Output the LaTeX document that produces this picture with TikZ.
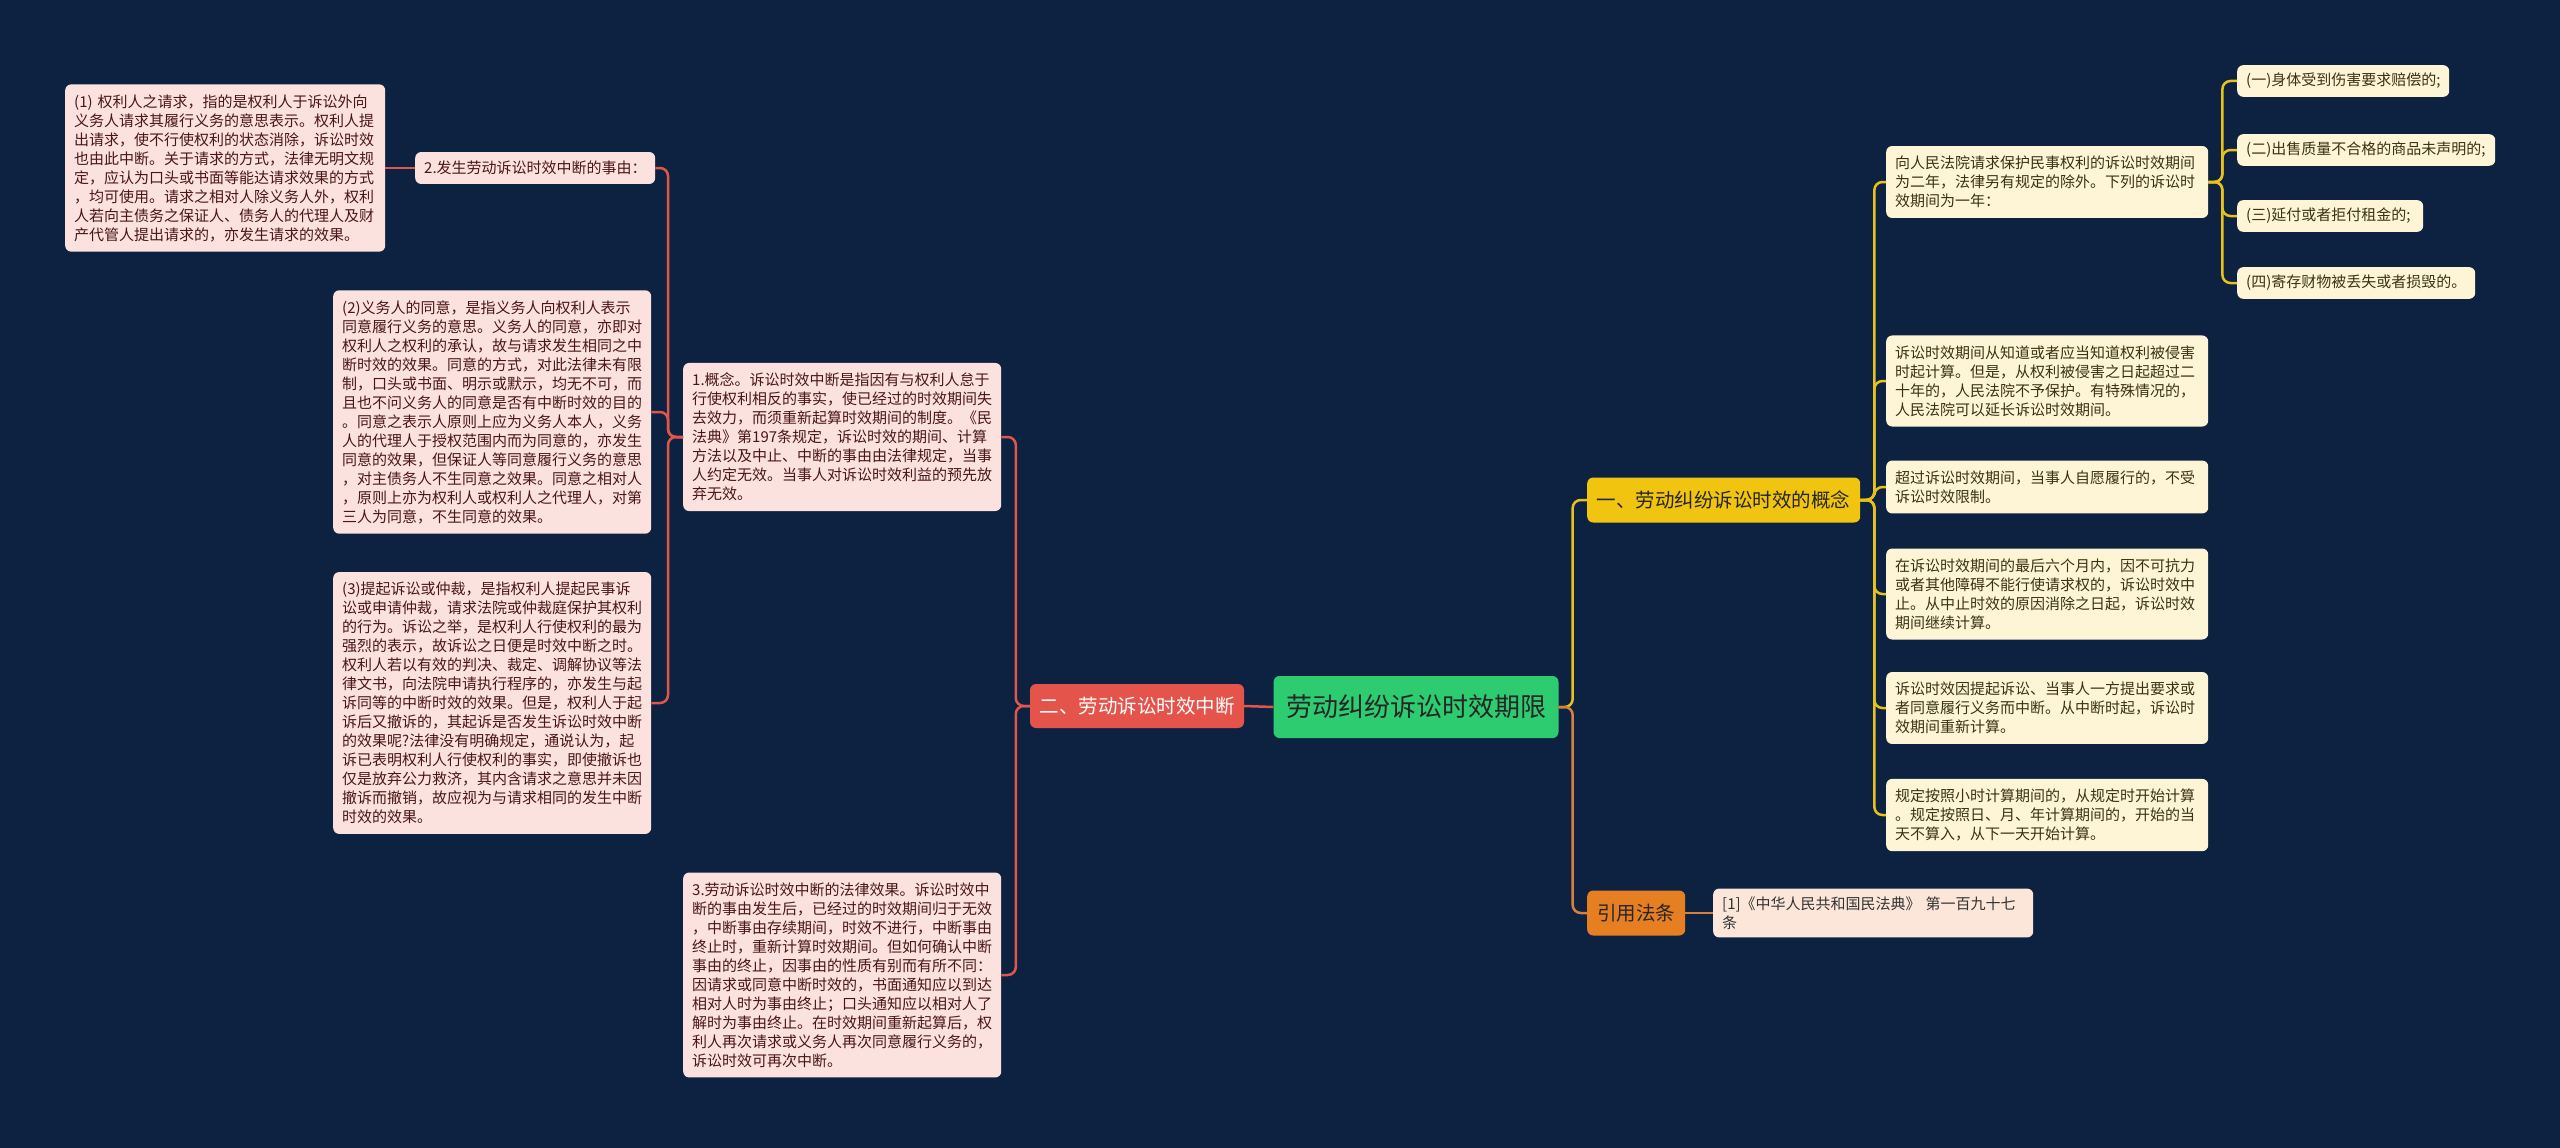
\documentclass[tikz,border=0pt]{standalone}
\usepackage{fontspec}
\setmainfont{Noto Sans CJK SC}
\definecolor{bgc}{HTML}{0C2240}
\definecolor{pinkc}{HTML}{FBE2DF}
\definecolor{pinktext}{HTML}{4A1616}
\definecolor{creamc}{HTML}{FDF5D6}
\definecolor{creamtext}{HTML}{3A3212}
\definecolor{citc}{HTML}{FCE6DA}
\definecolor{rootc}{HTML}{2ECC71}
\definecolor{redc}{HTML}{E4544A}
\definecolor{yelc}{HTML}{F1C40F}
\definecolor{orac}{HTML}{E67E22}
\definecolor{redl}{HTML}{E0574A}
\definecolor{yell}{HTML}{E8C21A}
\definecolor{oral}{HTML}{D9813A}
\begin{document}
\begin{tikzpicture}[x=1pt,y=-1pt,
  box/.style={rounded corners=6pt, align=left, inner xsep=9pt, inner ysep=10pt,
    font=\fontsize{15}{19}\selectfont, anchor=west},
  pinkbox/.style={box, fill=pinkc, text=pinktext},
  creambox/.style={box, fill=creamc, text=creamtext},
  itembox/.style={creambox, inner ysep=8pt},
  bignode/.style={rounded corners=6pt, align=center, inner sep=0pt,
    font=\fontsize{19.5}{22}\selectfont},
  conn/.style={line width=2.5pt, rounded corners=8pt},
  redline/.style={conn, draw=redl},
  yline/.style={conn, draw=yell},
  oline/.style={conn, draw=oral}]
\fill[bgc] (0,0) rectangle (2560,1148);
\useasboundingbox (0,0) rectangle (2560,1148);

% root
\node[bignode, fill=rootc, text=black!85, minimum width=285pt, minimum height=62pt,
  font=\fontsize{26}{30}\selectfont] (root) at (1416,707) {劳动纠纷诉讼时效期限};

% left branch
\node[bignode, fill=redc, text=white, minimum width=214pt, minimum height=44pt] (red) at (1137,706) {二、劳动诉讼时效中断};

\node[pinkbox, text width=300pt] (L2) at (683,437) {1.概念。诉讼时效中断是指因有与权利人怠于\\行使权利相反的事实，使已经过的时效期间失\\去效力，而须重新起算时效期间的制度。《民\\法典》第197条规定，诉讼时效的期间、计算\\方法以及中止、中断的事由由法律规定，当事\\人约定无效。当事人对诉讼时效利益的预先放\\弃无效。};

\node[pinkbox, text width=300pt] (L3) at (683,975) {3.劳动诉讼时效中断的法律效果。诉讼时效中\\断的事由发生后，已经过的时效期间归于无效\\，中断事由存续期间，时效不进行，中断事由\\终止时，重新计算时效期间。但如何确认中断\\事由的终止，因事由的性质有别而有所不同：\\因请求或同意中断时效的，书面通知应以到达\\相对人时为事由终止；口头通知应以相对人了\\解时为事由终止。在时效期间重新起算后，权\\利人再次请求或义务人再次同意履行义务的，\\诉讼时效可再次中断。};

\node[pinkbox, text width=222pt, inner ysep=9pt] (L1) at (415,168) {2.发生劳动诉讼时效中断的事由：};

\node[pinkbox, text width=302pt] (b1) at (65,168) {(1) 权利人之请求，指的是权利人于诉讼外向\\义务人请求其履行义务的意思表示。权利人提\\出请求，使不行使权利的状态消除，诉讼时效\\也由此中断。关于请求的方式，法律无明文规\\定，应认为口头或书面等能达请求效果的方式\\，均可使用。请求之相对人除义务人外，权利\\人若向主债务之保证人、债务人的代理人及财\\产代管人提出请求的，亦发生请求的效果。};

\node[pinkbox, text width=300pt] (b2) at (333,412) {(2)义务人的同意，是指义务人向权利人表示\\同意履行义务的意思。义务人的同意，亦即对\\权利人之权利的承认，故与请求发生相同之中\\断时效的效果。同意的方式，对此法律未有限\\制，口头或书面、明示或默示，均无不可，而\\且也不问义务人的同意是否有中断时效的目的\\。同意之表示人原则上应为义务人本人，义务\\人的代理人于授权范围内而为同意的，亦发生\\同意的效果，但保证人等同意履行义务的意思\\，对主债务人不生同意之效果。同意之相对人\\，原则上亦为权利人或权利人之代理人，对第\\三人为同意，不生同意的效果。};

\node[pinkbox, text width=300pt] (b3) at (333,703) {(3)提起诉讼或仲裁，是指权利人提起民事诉\\讼或申请仲裁，请求法院或仲裁庭保护其权利\\的行为。诉讼之举，是权利人行使权利的最为\\强烈的表示，故诉讼之日便是时效中断之时。\\权利人若以有效的判决、裁定、调解协议等法\\律文书，向法院申请执行程序的，亦发生与起\\诉同等的中断时效的效果。但是，权利人于起\\诉后又撤诉的，其起诉是否发生诉讼时效中断\\的效果呢?法律没有明确规定，通说认为，起\\诉已表明权利人行使权利的事实，即使撤诉也\\仅是放弃公力救济，其内含请求之意思并未因\\撤诉而撤销，故应视为与请求相同的发生中断\\时效的效果。};

% right branch
\node[bignode, fill=yelc, text=black!85, minimum width=273pt, minimum height=45pt, anchor=west] (yel) at (1587,500) {一、劳动纠纷诉讼时效的概念};
\node[bignode, fill=orac, text=black!85, minimum width=98pt, minimum height=45pt, anchor=west] (ora) at (1587,913) {引用法条};
\node[box, fill=citc, text=black!80, text width=302pt, inner ysep=8pt] (cit) at (1713,913) {[1]《中华人民共和国民法典》 第一百九十七\\条};

\node[creambox, text width=304pt] (R1) at (1886,182) {向人民法院请求保护民事权利的诉讼时效期间\\为二年，法律另有规定的除外。下列的诉讼时\\效期间为一年：};
\node[creambox, text width=304pt] (R2) at (1886,381) {诉讼时效期间从知道或者应当知道权利被侵害\\时起计算。但是，从权利被侵害之日起超过二\\十年的，人民法院不予保护。有特殊情况的，\\人民法院可以延长诉讼时效期间。};
\node[creambox, text width=304pt] (R3) at (1886,487) {超过诉讼时效期间，当事人自愿履行的，不受\\诉讼时效限制。};
\node[creambox, text width=304pt] (R4) at (1886,594) {在诉讼时效期间的最后六个月内，因不可抗力\\或者其他障碍不能行使请求权的，诉讼时效中\\止。从中止时效的原因消除之日起，诉讼时效\\期间继续计算。};
\node[creambox, text width=304pt] (R5) at (1886,708) {诉讼时效因提起诉讼、当事人一方提出要求或\\者同意履行义务而中断。从中断时起，诉讼时\\效期间重新计算。};
\node[creambox, text width=304pt] (R6) at (1886,815) {规定按照小时计算期间的，从规定时开始计算\\。规定按照日、月、年计算期间的，开始的当\\天不算入，从下一天开始计算。};

\node[itembox, text width=194pt] (i1) at (2237,81) {(一)身体受到伤害要求赔偿的;};
\node[itembox, text width=240pt] (i2) at (2237,150) {(二)出售质量不合格的商品未声明的;};
\node[itembox, text width=168pt] (i3) at (2237,216) {(三)延付或者拒付租金的;};
\node[itembox, text width=220pt] (i4) at (2237,283) {(四)寄存财物被丢失或者损毁的。};

% connectors left
\begin{scope}[on background layer/.try]
\end{scope}
\draw[redline] (root.west) -- (red.east);
\draw[redline] (red.west) -- ++(-14,0) |- (L2.east);
\draw[redline] (red.west) -- ++(-14,0) |- (L3.east);
\draw[redline] (L2.west) -- ++(-15,0) |- (L1.east);
\draw[redline] (L2.west) -- ++(-15,0) |- (b2.east);
\draw[redline] (L2.west) -- ++(-15,0) |- (b3.east);
\draw[redline] (L1.west) -- (b1.east);

% connectors right
\draw[yline] (root.east) -- ++(14,0) |- (yel.west);
\draw[oline] (root.east) -- ++(14,0) |- (ora.west);
\draw[oline] (ora.east) -- (cit.west);
\foreach \r in {R1,R2,R3,R4,R5,R6}
  \draw[yline] (yel.east) -- ++(14,0) |- (\r.west);
\foreach \i in {i1,i2,i3,i4}
  \draw[yline] (R1.east) -- ++(14,0) |- (\i.west);
\end{tikzpicture}
\end{document}
